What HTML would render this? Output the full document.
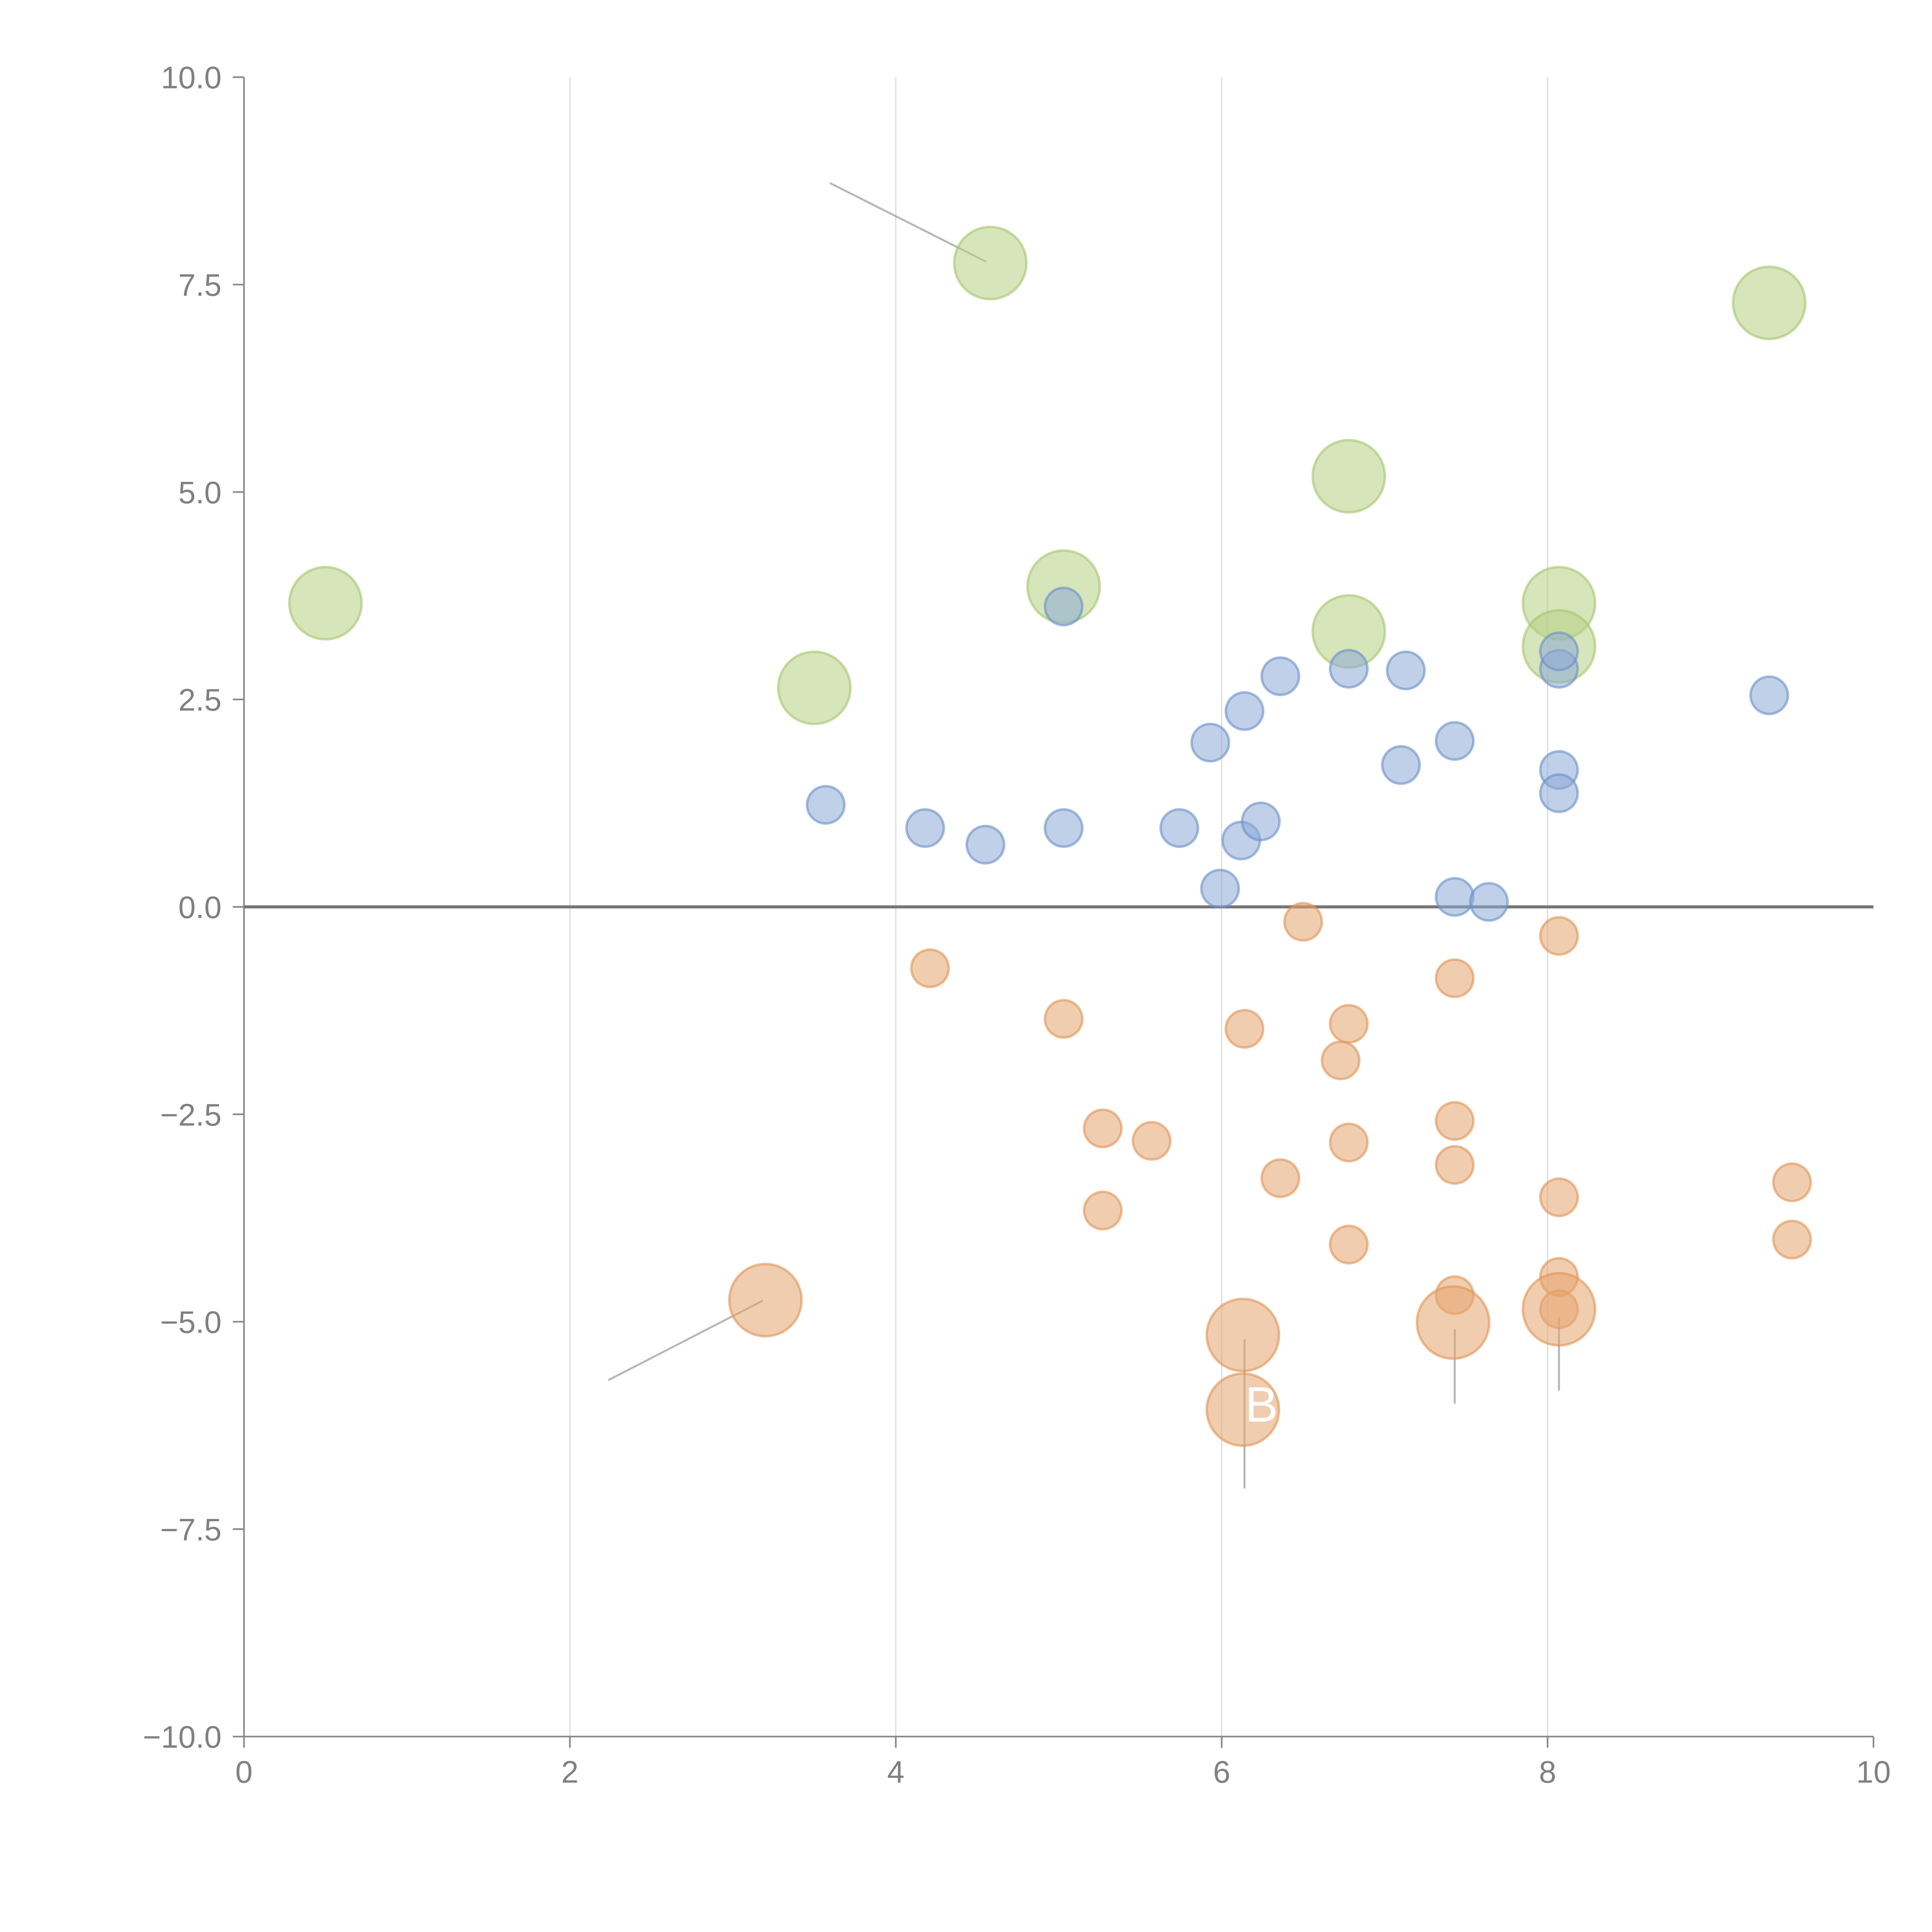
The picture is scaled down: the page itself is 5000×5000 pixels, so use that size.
<!DOCTYPE html>
<html><head><meta charset="utf-8"><style>html,body{margin:0;padding:0;background:#fff}svg{display:block}</style></head>
<body>
<svg id="chart" width="5000" height="5000" viewBox="0 0 1552 1552" xmlns="http://www.w3.org/2000/svg" font-family="Liberation Sans, sans-serif">
<rect width="1552" height="1552" fill="#fff"/>
<g id="grid"></g>
<g id="axes"></g>
<g id="annot"></g>
<g id="marks"></g>
<g id="labels"></g>
</svg>
<script>
const xTicks=[0,2,4,6,8,10];
const yTicks=[10,7.5,5,2.5,0,-2.5,-5,-7.5,-10];
const yTickLabels=["10.0","7.5","5.0","2.5","0.0","\u22122.5","\u22125.0","\u22127.5","\u221210.0"];
const blueX=[3.57,4.18,4.55,5.03,5.03,5.74,5.93,5.99,6.12,6.14,6.24,6.36,6.78,7.10,7.13,7.43,7.43,7.64,8.07,8.07,8.07,8.07,9.36];
const blueY=[1.23,0.95,0.75,0.95,3.62,0.95,1.98,0.22,0.80,2.36,1.03,2.78,2.87,1.71,2.85,2.00,0.12,0.06,2.87,3.08,1.65,1.37,2.55];
const orangeX=[4.21,5.03,5.27,5.27,5.57,6.14,6.36,6.50,6.73,6.78,6.78,6.78,7.43,7.43,7.43,7.43,8.07,8.07,8.07,8.07,9.50,9.50];
const orangeY=[-0.74,-1.35,-2.67,-3.66,-2.82,-1.47,-3.27,-0.18,-1.85,-1.41,-2.84,-4.07,-0.86,-2.58,-3.11,-4.68,-0.35,-3.50,-4.46,-4.85,-3.32,-4.01];
const orangeBigX=[3.20,6.13,6.13,7.42,8.07];
const orangeBigY=[-4.74,-5.16,-6.06,-5.01,-4.85];
const greenX=[0.50,3.50,4.58,5.03,6.78,6.78,8.07,8.07,9.36];
const greenY=[3.66,2.64,7.76,3.86,5.19,3.32,3.66,3.14,7.28];
const annX1=[3.60,2.24,6.14,7.43,8.07];
const annY1=[8.72,-5.70,-5.22,-5.10,-4.96];
const annX2=[4.55,3.18,6.14,7.43,8.07];
const annY2=[7.78,-4.75,-7.00,-5.98,-5.82];

const NS="http://www.w3.org/2000/svg";
const X0=196,X1=1505,Y0=62,Y1=1395;
const sx=v=>X0+(v-0)/(10-0)*(X1-X0);
const sy=v=>Y1-(v+10)/20*(Y1-Y0);
function mk(tag,attrs,parent){const e=document.createElementNS(NS,tag);for(const k in attrs)e.setAttribute(k,attrs[k]);document.getElementById(parent).appendChild(e);return e;}

xTicks.forEach(t=>{
  if(t>0&&t<10){const l=mk('line',{x1:sx(t),x2:sx(t),y1:Y0,y2:Y1,stroke:'#dddddd','stroke-width':1},'grid');
  
  }
  const tk=mk('line',{x1:sx(t),x2:sx(t),y1:Y1,y2:Y1+9,stroke:'#888','stroke-width':1.3},'axes');
  
  
  const tx=mk('text',{x:sx(t),y:Y1+37,'text-anchor':'middle','font-size':25,fill:'#808080'},'axes');
  tx.textContent=String(t);
  
  
});
yTicks.forEach((t,i)=>{
  const tk=mk('line',{x1:X0-9,x2:X0,y1:sy(t),y2:sy(t),stroke:'#888','stroke-width':1.3},'axes');
  
  
  const tx=mk('text',{x:X0-18,y:sy(t)+9,'text-anchor':'end','font-size':25,fill:'#808080'},'axes');
  tx.textContent=yTickLabels[i];
  
  
});
let ax=mk('line',{x1:X0,x2:X0,y1:Y0,y2:Y1,stroke:'#888','stroke-width':1.3},'axes');


ax=mk('line',{x1:X0,x2:X1,y1:Y1,y2:Y1,stroke:'#888','stroke-width':1.3},'axes');


ax=mk('line',{x1:X0,x2:X1,y1:sy(0),y2:sy(0),stroke:'#777','stroke-width':2.5},'axes');



function dots(xs,ys,r,fill,stroke,name){
  xs.forEach((x,i)=>{
    const c=mk('circle',{cx:sx(x),cy:sy(ys[i]),r:r,fill:fill,'fill-opacity':0.55,stroke:stroke,'stroke-opacity':0.6,'stroke-width':2},'marks');
    
    
  });
}
dots(greenX,greenY,29,'#b7cf83','#a7c46e','green-bubble');
dots(blueX,blueY,15,'#8aa9d6','#6b8fc8','blue-point');
dots(orangeX,orangeY,15,'#e6a46f','#e09555','orange-point');
dots(orangeBigX,orangeBigY,29,'#e6a46f','#e09555','orange-bubble');

annX1.forEach((x,i)=>{
  const l=mk('line',{x1:sx(x),y1:sy(annY1[i]),x2:sx(annX2[i]),y2:sy(annY2[i]),stroke:'#999','stroke-opacity':0.7,'stroke-width':1.6,'stroke-linecap':'round'},'annot');
  
  
});
const b=mk('text',{x:1000,y:1142,'font-size':40,fill:'#ffffff'},'labels');
b.textContent='B';


</script>
</body></html>
